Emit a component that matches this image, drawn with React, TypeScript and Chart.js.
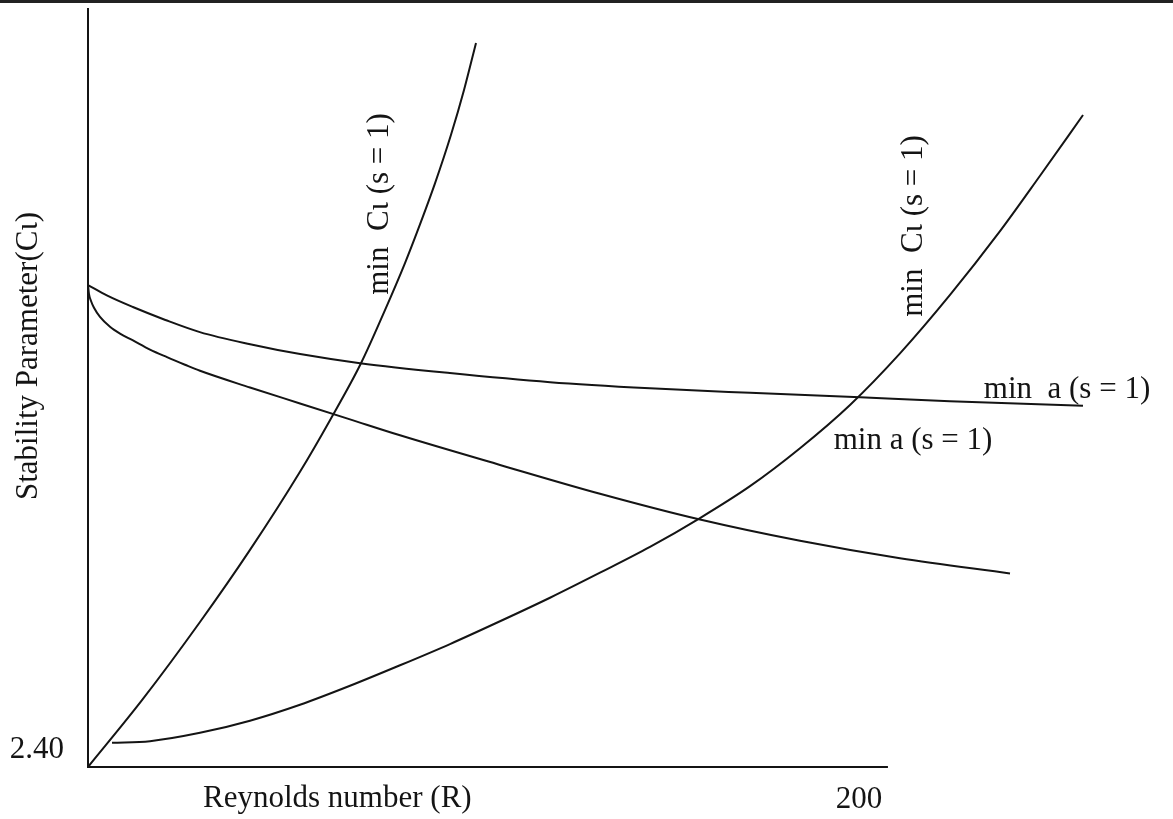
import React, { useEffect, useRef } from "react";
import { Chart, registerables } from "chart.js";

Chart.register(...registerables);

// Steep curve: min Cι (s = 1), left
const cSteepX = [0, 13.95, 28.94, 41.86, 54.78, 62.53, 70.54, 76.74, 81.91, 85.27, 89.66, 93.8, 97.16, 100.26];
const cSteepY = [2.4, 2.488, 2.591, 2.686, 2.789, 2.857, 2.932, 3.002, 3.064, 3.108, 3.169, 3.233, 3.292, 3.354];

// Right curve: min Cι (s = 1), right
const cRightX = [6.2, 16.02, 28.94, 41.86, 54.78, 67.7, 80.62, 93.54, 106.46, 119.38, 132.3, 145.22, 158.14, 171.06, 183.98, 196.9, 209.82, 222.74, 235.66, 246.0, 257.11];
const cRightY = [2.432, 2.434, 2.445, 2.461, 2.482, 2.507, 2.534, 2.562, 2.592, 2.623, 2.656, 2.69, 2.728, 2.77, 2.82, 2.877, 2.945, 3.022, 3.106, 3.179, 3.259];

// Upper min a (s = 1)
const aUpperX = [0, 5.0, 11.6, 20.0, 28.9, 41.9, 54.8, 70.3, 93.5, 119.4, 145.2, 171.1, 199.5, 222.7, 257.1];
const aUpperY = [3.035, 3.021, 3.006, 2.989, 2.973, 2.957, 2.944, 2.932, 2.919, 2.907, 2.899, 2.893, 2.887, 2.882, 2.876];

// Lower min a (s = 1)
const aLowerX = [0, 0.26, 0.78, 1.55, 3.1, 5.68, 8.27, 11.63, 16.02, 20.41, 25.06, 28.94, 41.86, 54.78, 67.7, 80.62, 106.46, 132.3, 158.14, 183.98, 209.82, 238.24];
const aLowerY = [3.035, 3.023, 3.014, 3.005, 2.993, 2.98, 2.971, 2.962, 2.95, 2.94, 2.930, 2.922, 2.9, 2.879, 2.858, 2.837, 2.798, 2.76, 2.726, 2.698, 2.675, 2.655];

const xTickValues = [200];
const xTickLabels = ["200"];
const yTickValues = [2.4];
const yTickLabels = ["2.40"];
const xAxisEnd = 206.7;

const xTitle = "Reynolds number (R)";
const yTitle = "Stability Parameter(Cι)";
const labelC = "min  Cι (s = 1)";
const labelAUpper = "min  a (s = 1)";
const labelALower = "min a (s = 1)";

const toPts = (xs: number[], ys: number[]) => xs.map((x, i) => ({ x, y: ys[i] }));

const FONT = "31px 'Liberation Serif', 'Times New Roman', serif";
const INK = "#141414";

const decor = {
  id: "decor",
  afterDraw(chart: any) {
    const ctx = chart.ctx as CanvasRenderingContext2D;
    const xs = chart.scales.x;
    const ys = chart.scales.y;
    const area = chart.chartArea;
    ctx.save();
    // top border line of the scan
    ctx.strokeStyle = "#222";
    ctx.lineWidth = 3;
    ctx.beginPath();
    ctx.moveTo(0, 1.5);
    ctx.lineTo(chart.width, 1.5);
    ctx.stroke();

    // axes
    const x0 = xs.getPixelForValue(0);
    const y0 = ys.getPixelForValue(yTickValues[0]);
    ctx.strokeStyle = INK;
    ctx.lineWidth = 2;
    ctx.beginPath();
    ctx.moveTo(x0, area.top);
    ctx.lineTo(x0, y0);
    ctx.lineTo(xs.getPixelForValue(xAxisEnd), y0);
    ctx.stroke();

    ctx.fillStyle = INK;
    ctx.font = FONT;
    // tick labels
    ctx.textAlign = "center";
    ctx.textBaseline = "alphabetic";
    xTickValues.forEach((v, i) => {
      ctx.fillText(xTickLabels[i], xs.getPixelForValue(v) - 3, y0 + 41);
    });
    ctx.textAlign = "right";
    yTickValues.forEach((v, i) => {
      ctx.fillText(yTickLabels[i], x0 - 24, ys.getPixelForValue(v) - 9);
    });

    // axis titles
    ctx.textAlign = "left";
    ctx.fillText(xTitle, 203, y0 + 40);
    ctx.save();
    ctx.translate(29, 356);
    ctx.rotate(-Math.PI / 2);
    ctx.textAlign = "center";
    ctx.textBaseline = "middle";
    ctx.fillText(yTitle, 0, 0);
    ctx.restore();

    // curve labels
    const rotLabel = (t: string, cx: number, cy: number) => {
      ctx.save();
      ctx.translate(cx, cy);
      ctx.rotate(-Math.PI / 2);
      ctx.textAlign = "center";
      ctx.textBaseline = "middle";
      ctx.fillText(t, 0, 0);
      ctx.restore();
    };
    rotLabel(labelC, 380, 204);
    rotLabel(labelC, 914, 226);
    ctx.textAlign = "center";
    ctx.textBaseline = "middle";
    ctx.fillText(labelAUpper, 1067, 390);
    ctx.fillText(labelALower, 913, 441);
    ctx.restore();
  },
};

export default function App() {
  const ref = useRef<HTMLCanvasElement | null>(null);
  useEffect(() => {
    if (!ref.current) return;
    const mk = (xs: number[], ys: number[]) => ({
      data: toPts(xs, ys),
      showLine: true,
      borderColor: INK,
      borderWidth: 2,
      pointRadius: 0,
      cubicInterpolationMode: "monotone" as const,
      fill: false,
      clip: false as any,
    });
    const chart = new Chart(ref.current, {
      type: "scatter",
      data: {
        datasets: [
          mk(cSteepX, cSteepY),
          mk(cRightX, cRightY),
          mk(aUpperX, aUpperY),
          mk(aLowerX, aLowerY),
        ],
      },
      options: {
        animation: false,
        responsive: false,
        layout: { padding: { left: 88, right: 13, top: 8, bottom: 52 } },
        plugins: { legend: { display: false }, tooltip: { enabled: false } },
        scales: {
          x: { type: "linear", min: 0, max: 277, display: false },
          y: { type: "linear", min: 2.4, max: 3.4, display: false },
        },
      },
      plugins: [decor],
    });
    return () => chart.destroy();
  }, []);
  return (
    <div style={{ position: "fixed", left: 0, top: 0, width: 1173, height: 819, background: "#fff" }}>
      <canvas ref={ref} width={1173} height={819} />
    </div>
  );
}
